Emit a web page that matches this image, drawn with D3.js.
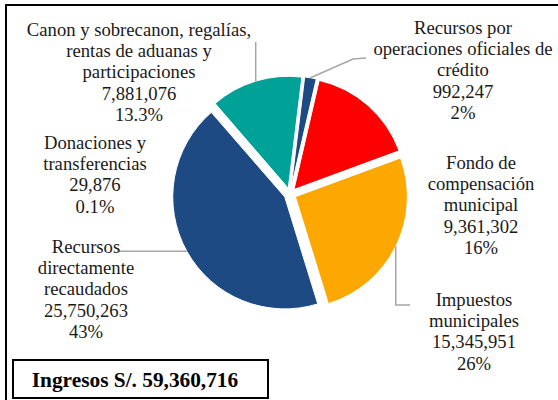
<!DOCTYPE html>
<html>
<head>
<meta charset="utf-8">
<script src="https://cdn.jsdelivr.net/npm/d3@7"></script>
<style>
  body { margin: 0; background: #fff; }
</style>
</head>
<body>
<div id="container"></div>
<script>
// data
var categories = [
  ["Recursos por", "operaciones oficiales de", "crédito"],
  ["Fondo de", "compensación", "municipal"],
  ["Impuestos", "municipales"],
  ["Recursos", "directamente", "recaudados"],
  ["Donaciones y", "transferencias"],
  ["Canon y sobrecanon, regalías,", "rentas de aduanas y", "participaciones"]
];
var values = [992247, 9361302, 15345951, 25750263, 29876, 7881076];
var valueLabels = ["992,247", "9,361,302", "15,345,951", "25,750,263", "29,876", "7,881,076"];
var pctLabels = ["2%", "16%", "26%", "43%", "0.1%", "13.3%"];
var colors = ["#1d4a83", "#ff0000", "#fca800", "#1d4a83", "#1d4a83", "#00a298"];
var totalLabel = "Ingresos S/. 59,360,716";

var width = 558, height = 400;
var cx = 290, cy = 194, radius = 112, explode = 6;
var serif = "Liberation Serif";

// label placement (center x, first baseline y) and leader elbows
var labelPos = [
  {x: 463, y: 34, line: [[353, 59], [366, 58]]},
  {x: 481, y: 169, line: null},
  {x: 474, y: 306, line: [[395, 305], [410, 305]], vertFirst: true},
  {x: 86, y: 253, line: [[117, null]]},
  {x: 95, y: 149, line: null},
  {x: 139, y: 36, line: [[null, 42]]}
];

var svg = d3.select("#container")
  .append("svg")
  .attr("width", width)
  .attr("height", height);

// outer frame (only top and left show)
svg.append("path")
  .attr("d", "M6,402 L6,5 L560,5")
  .attr("fill", "none")
  .attr("stroke", "#000")
  .attr("stroke-width", 2);

var pie = d3.pie()
  .sort(null)
  .startAngle(7 * Math.PI / 180)
  .endAngle(7 * Math.PI / 180 + 2 * Math.PI);

var arcs = pie(values);

var arc = d3.arc().innerRadius(0).outerRadius(radius);

function offsetOf(d) {
  var a = (d.startAngle + d.endAngle) / 2;
  return [explode * Math.sin(a), -explode * Math.cos(a)];
}

var g = svg.append("g").attr("transform", "translate(" + cx + "," + cy + ")");

g.selectAll(".slice")
  .data(arcs)
  .enter().append("path")
  .attr("class", "slice")
  .attr("transform", function (d) {
    var o = offsetOf(d);
    return "translate(" + o[0] + "," + o[1] + ")";
  })
  .attr("d", arc)
  .attr("fill", function (d, i) { return colors[i] })
  .attr("stroke", "#fff")
  .attr("stroke-width", 1);

// leader lines
arcs.forEach(function (d, i) {
  var lp = labelPos[i];
  if (!lp.line) return;
  var a = (d.startAngle + d.endAngle) / 2;
  var o = offsetOf(d);
  var sx = cx + o[0] + radius * Math.sin(a);
  var sy = cy + o[1] - radius * Math.cos(a);
  var pts = [[sx, sy]];
  lp.line.forEach(function (p, k) {
    var px = p[0] === null ? sx : p[0];
    var py = p[1] === null ? sy : p[1];
    if (lp.vertFirst && k === 0) px = sx;
    pts.push([px, py]);
  });
  svg.append("path")
    .attr("d", d3.line()(pts))
    .attr("fill", "none")
    .attr("stroke", "#a6a6a6")
    .attr("stroke-width", 1.5);
});

// data labels
categories.forEach(function (cat, i) {
  var lines = cat.concat([valueLabels[i], pctLabels[i]]);
  var t = svg.append("text")
    .attr("x", labelPos[i].x)
    .attr("y", labelPos[i].y)
    .attr("text-anchor", "middle")
    .attr("font-family", serif)
    .attr("font-size", 18.67)
    .attr("fill", "#1a1a1a");
  lines.forEach(function (s, k) {
    t.append("tspan")
      .attr("x", labelPos[i].x)
      .attr("dy", k === 0 ? 0 : 21.2)
      .text(s);
  });
});

// total box
svg.append("rect")
  .attr("x", 13)
  .attr("y", 360)
  .attr("width", 255)
  .attr("height", 38)
  .attr("fill", "#fff")
  .attr("stroke", "#000")
  .attr("stroke-width", 2);

svg.append("text")
  .attr("x", 135)
  .attr("y", 387)
  .attr("text-anchor", "middle")
  .attr("font-family", serif)
  .attr("font-size", 21.33)
  .attr("font-weight", "bold")
  .attr("fill", "#000")
  .text(totalLabel);
</script>
</body>
</html>
